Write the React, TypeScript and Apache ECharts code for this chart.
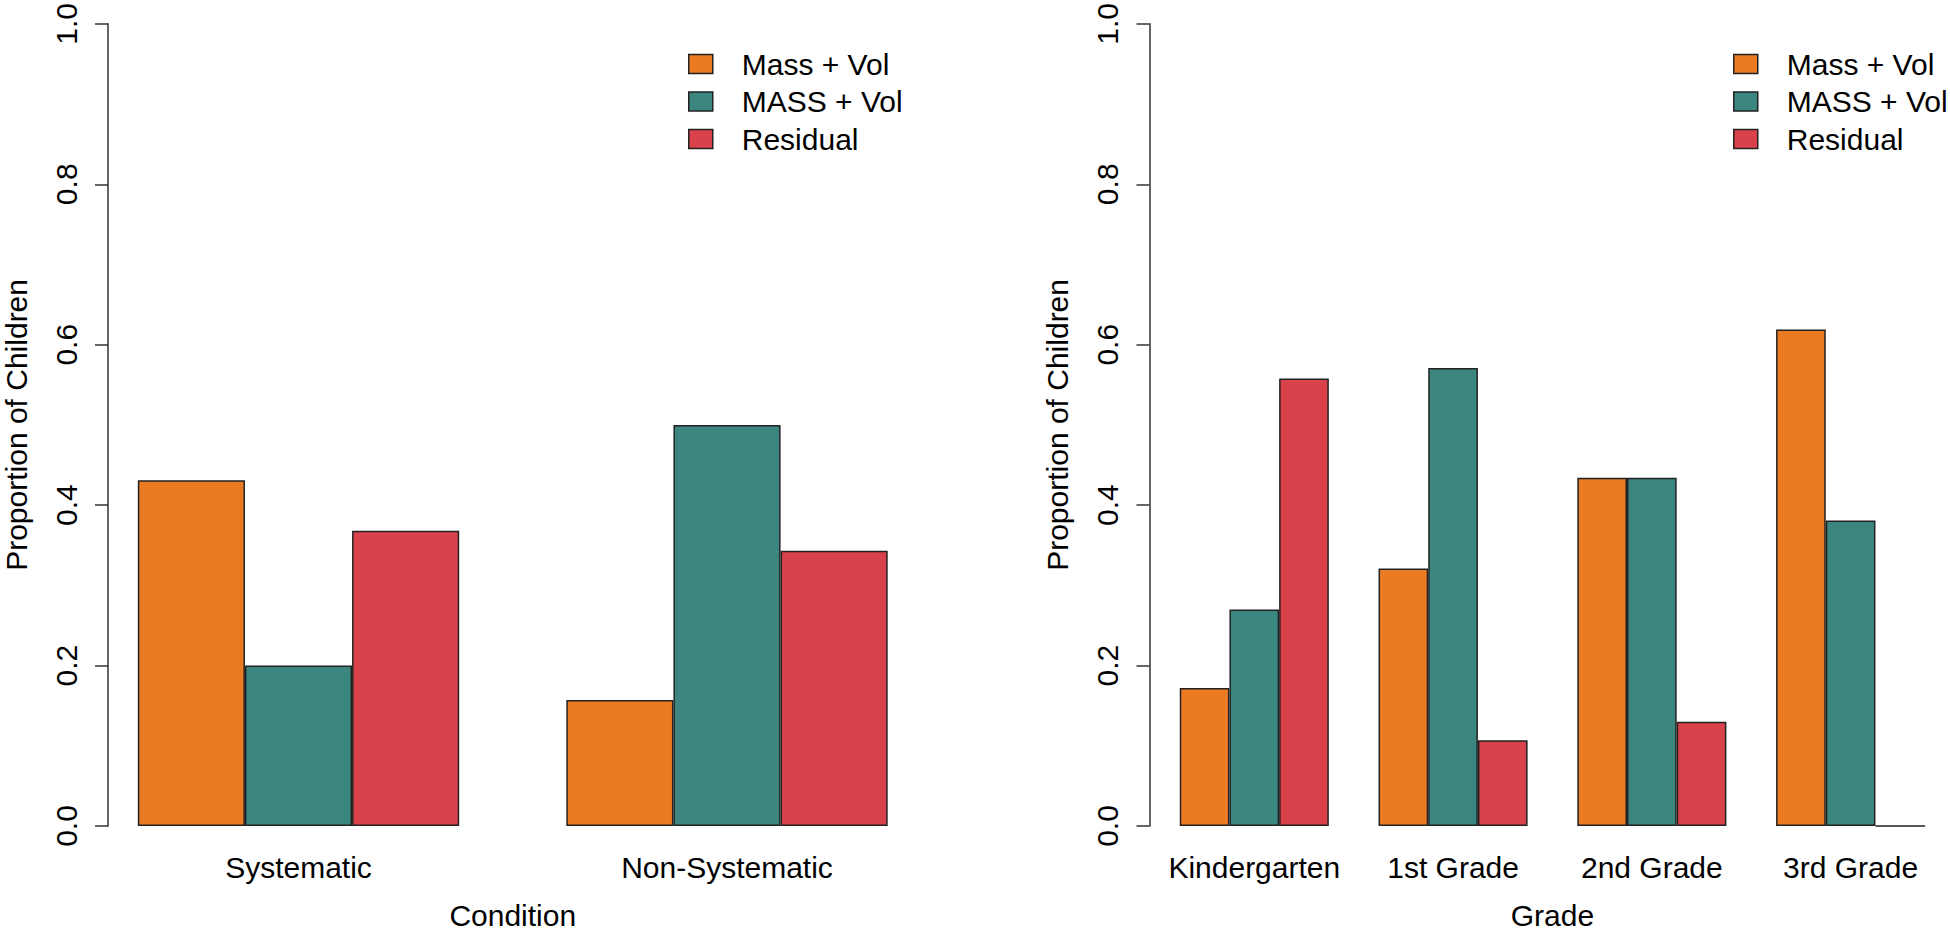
import React, { useEffect, useRef } from "react";
import * as echarts from "echarts";

const conditionCategories = ["Systematic", "Non-Systematic"];
const gradeCategories = ["Kindergarten", "1st Grade", "2nd Grade", "3rd Grade"];
const seriesNames = ["Mass + Vol", "MASS + Vol", "Residual"];

const conditionMassVol = [0.431, 0.157];
const conditionMASSVol = [0.2, 0.5];
const conditionResidual = [0.368, 0.343];

const gradeMassVol = [0.172, 0.321, 0.434, 0.619];
const gradeMASSVol = [0.27, 0.571, 0.434, 0.381];
const gradeResidual = [0.558, 0.107, 0.13, 0];

const yTickMin = 0;
const yTickMax = 1;
const yTickStep = 0.2;

const colors = ["#EB7B23", "#3B8780", "#D9414B"];
const FONT = "'Liberation Sans', Arial, Helvetica, sans-serif";
const AXIS_COLOR = "#333";

function makeYAxis(gridIndex: number, offset: number) {
  return {
    type: "value",
    gridIndex,
    min: yTickMin,
    max: yTickMax,
    interval: yTickStep,
    offset,
    name: "Proportion of Children",
    nameLocation: "middle",
    nameRotate: 90,
    nameGap: 77,
    nameTextStyle: { fontFamily: FONT, fontSize: 30, color: "#000", lineHeight: 30 },
    axisLine: { show: true, lineStyle: { color: AXIS_COLOR, width: 1.5 } },
    axisTick: { show: true, length: 13, lineStyle: { color: AXIS_COLOR, width: 1.5 } },
    axisLabel: {
      rotate: 90,
      margin: 27,
      fontFamily: FONT,
      fontSize: 30,
      lineHeight: 30,
      color: "#000",
      formatter: (v: number) => v.toFixed(1),
    },
    splitLine: { show: false },
  };
}

function makeXAxis(gridIndex: number, data: string[], name: string) {
  return {
    type: "category",
    gridIndex,
    data,
    name,
    nameLocation: "middle",
    nameGap: 74,
    nameTextStyle: { fontFamily: FONT, fontSize: 30, color: "#000", lineHeight: 30 },
    axisLine: { show: false },
    axisTick: { show: false },
    axisLabel: { margin: 26, fontFamily: FONT, fontSize: 30, lineHeight: 30, color: "#000", interval: 0 },
    splitLine: { show: false },
  };
}

function makeBar(name: string, data: number[], color: string, idx: number) {
  return {
    type: "bar",
    name,
    xAxisIndex: idx,
    yAxisIndex: idx,
    data,
    barGap: "0%",
    barCategoryGap: "25%",
    itemStyle: { color, borderColor: "#222", borderWidth: 1.5 },
  };
}

function makeLegend(left: number) {
  return {
    orient: "vertical",
    left,
    top: 44,
    data: seriesNames,
    icon: "rect",
    itemWidth: 24,
    itemHeight: 19,
    itemGap: 7.5,
    selectedMode: false,
    itemStyle: { borderColor: "#222", borderWidth: 1.5 },
    textStyle: {
      fontFamily: FONT,
      fontSize: 30,
      lineHeight: 30,
      color: "#000",
      padding: [0, 0, 0, 24],
    },
  };
}

export default function App() {
  const ref = useRef<HTMLDivElement>(null);
  useEffect(() => {
    if (!ref.current) return;
    const chart = echarts.init(ref.current, undefined, { renderer: "svg" });
    const option = {
      animation: false,
      backgroundColor: "#fff",
      textStyle: { fontFamily: FONT },
      grid: [
        { left: 81.25, right: 1950 - 941.25, top: 20, bottom: 100, containLabel: false },
        { left: 1154.9, right: 1950 - 1958.1, top: 20, bottom: 100, containLabel: false },
      ],
      xAxis: [
        makeXAxis(0, conditionCategories, "Condition"),
        makeXAxis(1, gradeCategories, "Grade"),
      ],
      yAxis: [makeYAxis(0, -23.75), makeYAxis(1, 5.4)],
      legend: [makeLegend(683), makeLegend(1728)],
      series: [
        makeBar(seriesNames[0], conditionMassVol, colors[0], 0),
        makeBar(seriesNames[1], conditionMASSVol, colors[1], 0),
        makeBar(seriesNames[2], conditionResidual, colors[2], 0),
        makeBar(seriesNames[0], gradeMassVol, colors[0], 1),
        makeBar(seriesNames[1], gradeMASSVol, colors[1], 1),
        makeBar(seriesNames[2], gradeResidual, colors[2], 1),
      ],
    };
    chart.setOption(option as any);
    return () => chart.dispose();
  }, []);
  return (
    <div
      ref={ref}
      style={{ position: "fixed", left: 0, top: 0, width: 1950, height: 935, background: "#fff" }}
    />
  );
}
